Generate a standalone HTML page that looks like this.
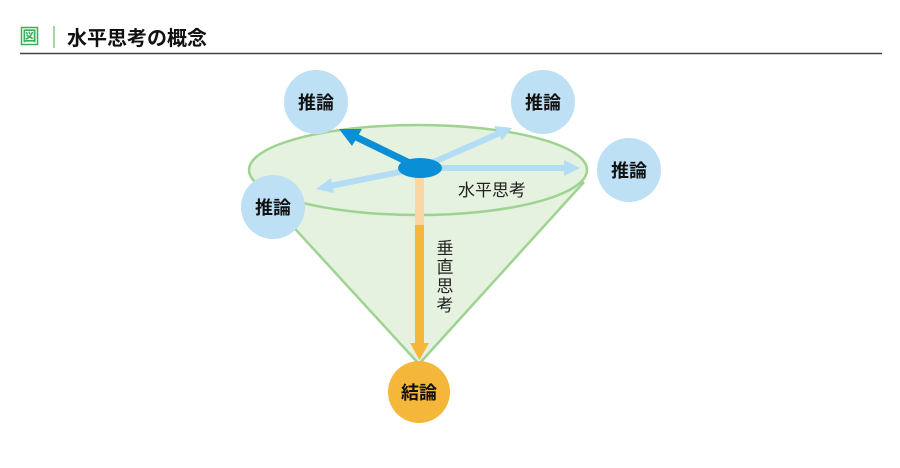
<!DOCTYPE html>
<html><head><meta charset="utf-8"><style>
html,body{margin:0;padding:0;background:#fff;width:900px;height:468px;overflow:hidden}
svg text{font-family:"Liberation Sans","Noto Sans CJK JP",sans-serif}
</style></head><body>
<svg width="900" height="468" viewBox="0 0 900 468" xmlns="http://www.w3.org/2000/svg">
<rect x="21.5" y="27.5" width="16" height="17" fill="none" stroke="#3aae5a" stroke-width="1.5"/>
<text x="29.5" y="41" font-size="14" fill="#3aae5a" text-anchor="middle" font-weight="bold">図</text>
<line x1="54" y1="26" x2="54" y2="48" stroke="#a8d5a8" stroke-width="2"/>
<text x="67" y="45" font-size="20" font-weight="bold" fill="#111">水平思考の概念</text>
<line x1="20" y1="53.5" x2="882" y2="53.5" stroke="#444" stroke-width="1.5"/>

<path d="M264,195 L419,364 L584,182 L418,170 Z" fill="#e6f2e0" stroke="none"/>
<path d="M264,195 L419,364 L584,182" fill="none" stroke="#9ed392" stroke-width="2.5" stroke-linejoin="round"/>
<ellipse cx="418" cy="170" rx="169" ry="45" fill="#e6f2e0" stroke="#9ed392" stroke-width="2.5"/>

<circle cx="316" cy="102" r="32" fill="#bde0f5"/>
<circle cx="543" cy="102" r="32" fill="#bde0f5"/>
<circle cx="629" cy="170" r="32" fill="#bde0f5"/>
<circle cx="273" cy="207" r="32" fill="#bde0f5"/>
<text x="316" y="109" font-size="18" font-weight="bold" text-anchor="middle" fill="#111">推論</text>
<text x="543" y="109" font-size="18" font-weight="bold" text-anchor="middle" fill="#111">推論</text>
<text x="629" y="177" font-size="18" font-weight="bold" text-anchor="middle" fill="#111">推論</text>
<text x="273" y="214" font-size="18" font-weight="bold" text-anchor="middle" fill="#111">推論</text>

<g stroke="#b3dcf5" stroke-width="6" fill="#b3dcf5">
<line x1="420" y1="168" x2="500" y2="133"/>
<polygon points="512,128 494,126 502,140" stroke="none"/>
<line x1="420" y1="168" x2="568" y2="168"/>
<polygon points="580,168 564,160 564,176" stroke="none"/>
<line x1="420" y1="168" x2="330" y2="186"/>
<polygon points="316,189 331,178 334,193" stroke="none"/>
</g>
<line x1="420" y1="168" x2="354" y2="136" stroke="#0a8fd6" stroke-width="7"/>
<polygon points="339,129 362,129 352,146" fill="#0a8fd6"/>
<ellipse cx="420" cy="168" rx="22" ry="10" fill="#0a8fd6"/>

<rect x="415" y="178" width="9" height="48" fill="#fbd6a4"/>
<rect x="415" y="225" width="9" height="120" fill="#f5b73a"/>
<polygon points="410,343 429,343 419.5,360" fill="#f5b73a"/>
<circle cx="419" cy="392" r="31" fill="#f5b73a"/>
<text x="419" y="399" font-size="18" font-weight="bold" text-anchor="middle" fill="#111">結論</text>

<text x="458" y="196" font-size="17" fill="#222">水平思考</text>
<g font-size="17" fill="#222" text-anchor="middle">
<text x="445" y="254">垂</text><text x="445" y="273">直</text><text x="445" y="292">思</text><text x="445" y="311">考</text>
</g>
</svg>
</body></html>
